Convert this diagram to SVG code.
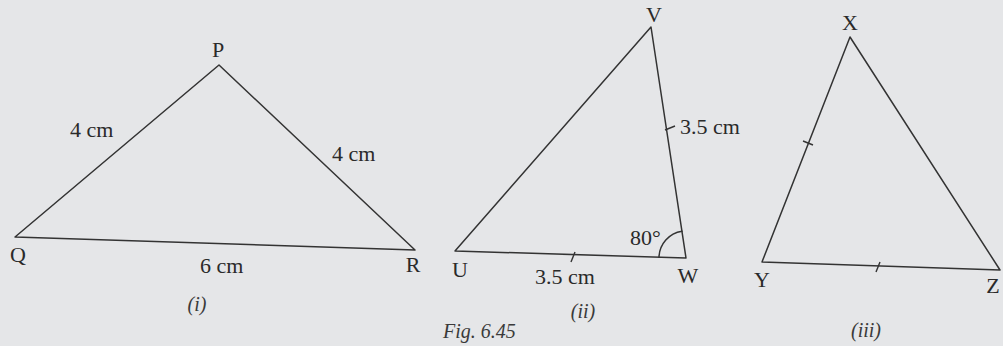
<svg xmlns="http://www.w3.org/2000/svg" width="1003" height="346" viewBox="0 0 1003 346">
<style>
.bg{fill:#e5e6e8}
.edge{stroke:#333;stroke-width:1.5;fill:none;stroke-linecap:round;stroke-linejoin:round}
.tick{stroke:#333;stroke-width:1.4;fill:none}
.lbl{font-family:"Liberation Serif","DejaVu Serif","Times New Roman",serif;font-size:22px;fill:#2a2a2a}
.cap{font-family:"Liberation Serif","DejaVu Serif","Times New Roman",serif;font-size:20px;font-style:italic;fill:#3a3a3a}
</style>
<rect class="bg" x="0" y="0" width="1003" height="346"/>
<g id="triangle-i">
<polygon class="edge" points="15,237 219,65 415,250"/>
<text class="lbl" x="218" y="57" text-anchor="middle">P</text>
<text class="lbl" x="18" y="262" text-anchor="middle">Q</text>
<text class="lbl" x="413" y="272" text-anchor="middle">R</text>
<text class="lbl" x="70" y="137">4 cm</text>
<text class="lbl" x="332" y="161">4 cm</text>
<text class="lbl" x="200" y="273">6 cm</text>
<text class="cap" x="197" y="311" text-anchor="middle">(i)</text>
</g>
<g id="triangle-ii">
<polygon class="edge" points="455,251 651,27 686,258"/>
<line class="tick" x1="665" y1="130" x2="675" y2="126"/>
<line class="tick" x1="571" y1="262" x2="575" y2="252"/>
<path class="edge" d="M659,257.2 A27,27 0 0 1 682,231.3"/>
<text class="lbl" x="654" y="22" text-anchor="middle">V</text>
<text class="lbl" x="460" y="277" text-anchor="middle">U</text>
<text class="lbl" x="688" y="283" text-anchor="middle">W</text>
<text class="lbl" x="680" y="134">3.5 cm</text>
<text class="lbl" x="535" y="284">3.5 cm</text>
<text class="lbl" x="630" y="245">80°</text>
<text class="cap" x="583" y="318" text-anchor="middle">(ii)</text>
<text class="cap" x="443" y="338">Fig. 6.45</text>
</g>
<g id="triangle-iii">
<polygon class="edge" points="762,262 850,37 1000,270"/>
<line class="tick" x1="803" y1="141" x2="813" y2="145"/>
<line class="tick" x1="876" y1="272" x2="880" y2="262"/>
<text class="lbl" x="850" y="30" text-anchor="middle">X</text>
<text class="lbl" x="762" y="287" text-anchor="middle">Y</text>
<text class="lbl" x="993" y="293" text-anchor="middle">Z</text>
<text class="cap" x="866" y="337" text-anchor="middle">(iii)</text>
</g>
</svg>
